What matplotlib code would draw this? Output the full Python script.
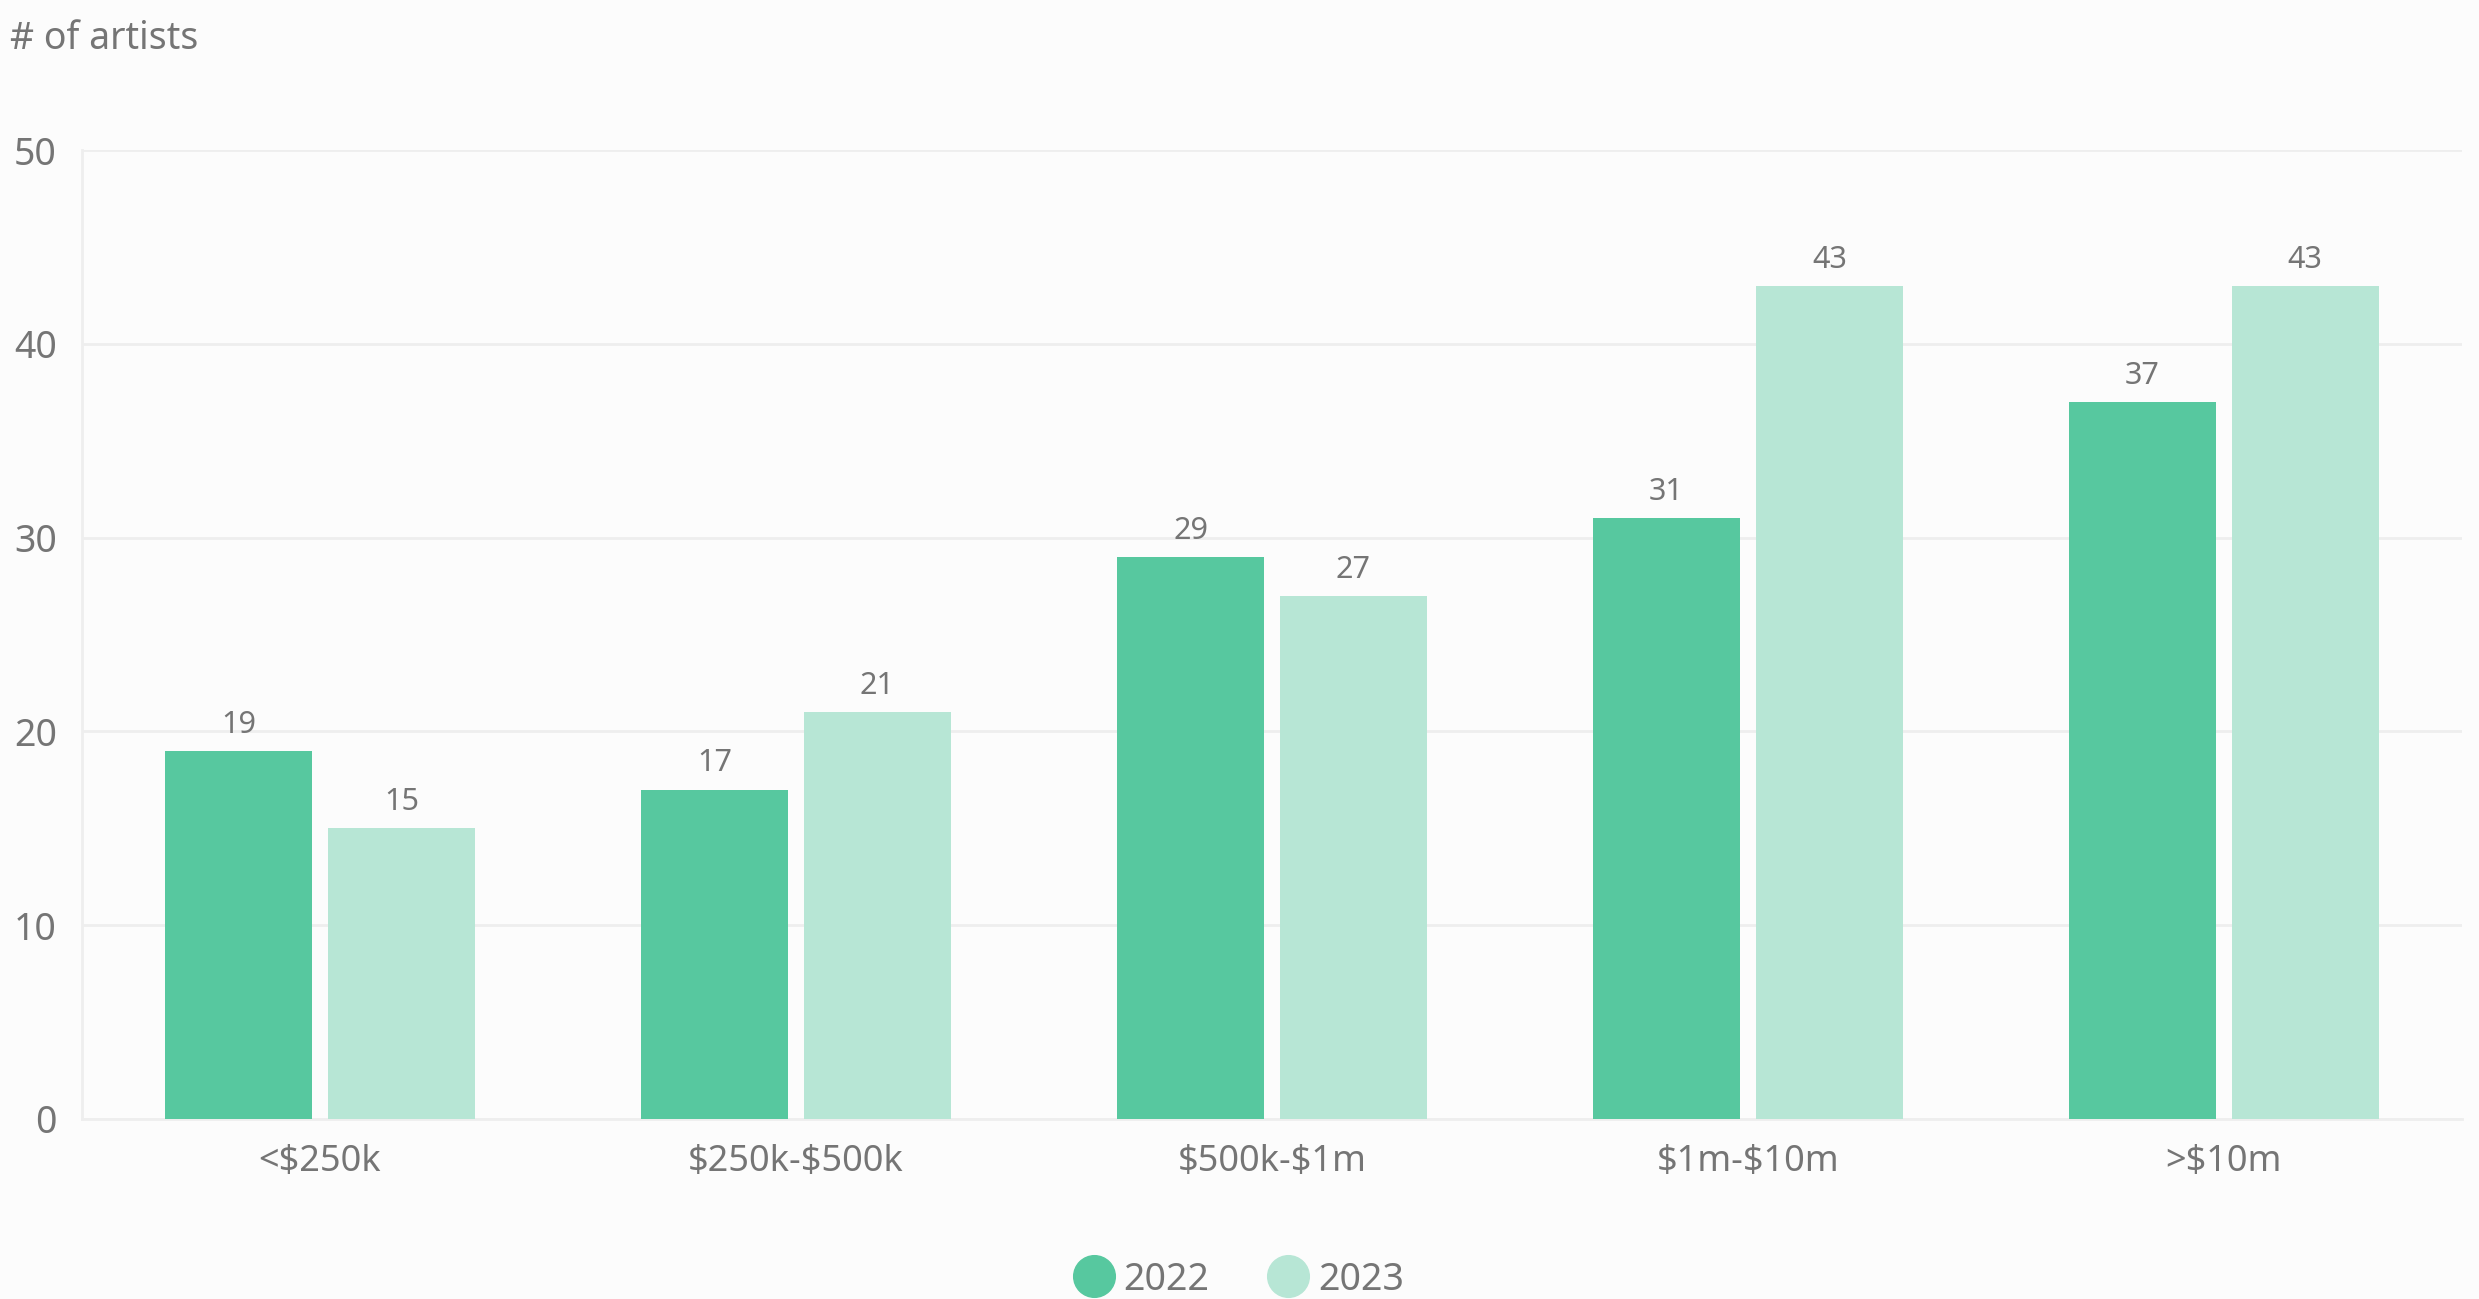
import matplotlib.pyplot as plt
from matplotlib.lines import Line2D
import numpy as np

plt.rcParams['font.family'] = ['Noto Sans', 'DejaVu Sans']
plt.rcParams['text.parse_math'] = False

# data
categories = ['<$250k', '$250k-$500k', '$500k-$1m', '$1m-$10m', '>$10m']
values_2022 = [19, 17, 29, 31, 37]
values_2023 = [15, 21, 27, 43, 43]
series_names = ['2022', '2023']
colors = ['#57C89F', '#B7E6D5']
text_color = '#757575'
grid_color = '#EEEEEE'
bg = '#FCFCFC'

fig = plt.figure(figsize=(24.79, 12.99), dpi=100, facecolor=bg)
ax = fig.add_axes([0.0331, 0.1386, 0.96, 0.7459], facecolor=bg)

x = np.arange(len(categories))
w = 0.31
off = 0.171
bars1 = ax.bar(x - off, values_2022, w, color=colors[0], zorder=3)
bars2 = ax.bar(x + off, values_2023, w, color=colors[1], zorder=3)

# value labels above bars
for bars in (bars1, bars2):
    for b in bars:
        ax.annotate(f'{int(b.get_height())}', (b.get_x() + b.get_width() / 2, b.get_height()),
                    xytext=(0, 8), textcoords='offset points', ha='center', va='bottom',
                    fontsize=22, color=text_color)

ax.set_xlim(-0.5, len(categories) - 0.5)
ax.set_ylim(0, 50)
ax.set_yticks([0, 10, 20, 30, 40, 50])
ax.set_xticks(x)
ax.set_xticklabels(categories)
ax.tick_params(axis='both', length=0, colors=text_color)
ax.tick_params(axis='y', labelsize=27, pad=18)
ax.tick_params(axis='x', labelsize=26, pad=18)
ax.grid(axis='y', color=grid_color, linewidth=2, zorder=0)
for s in ['top', 'right']:
    ax.spines[s].set_visible(False)
for s in ['left', 'bottom']:
    ax.spines[s].set_color(grid_color)
    ax.spines[s].set_linewidth(2)

fig.text(0.004, 0.970, '# of artists', fontsize=27, color=text_color, ha='left', va='center')

handles = [Line2D([], [], linestyle='none', marker='o', markersize=30,
                  markerfacecolor=c, markeredgecolor=c) for c in colors]
fig.legend(handles, series_names, loc='center', bbox_to_anchor=(0.5, 0.015), ncol=2,
           frameon=False, fontsize=27, labelcolor=text_color, handletextpad=0.3,
           columnspacing=1.6, handlelength=1.0)

fig.savefig('out.png', dpi=100, facecolor=bg)
